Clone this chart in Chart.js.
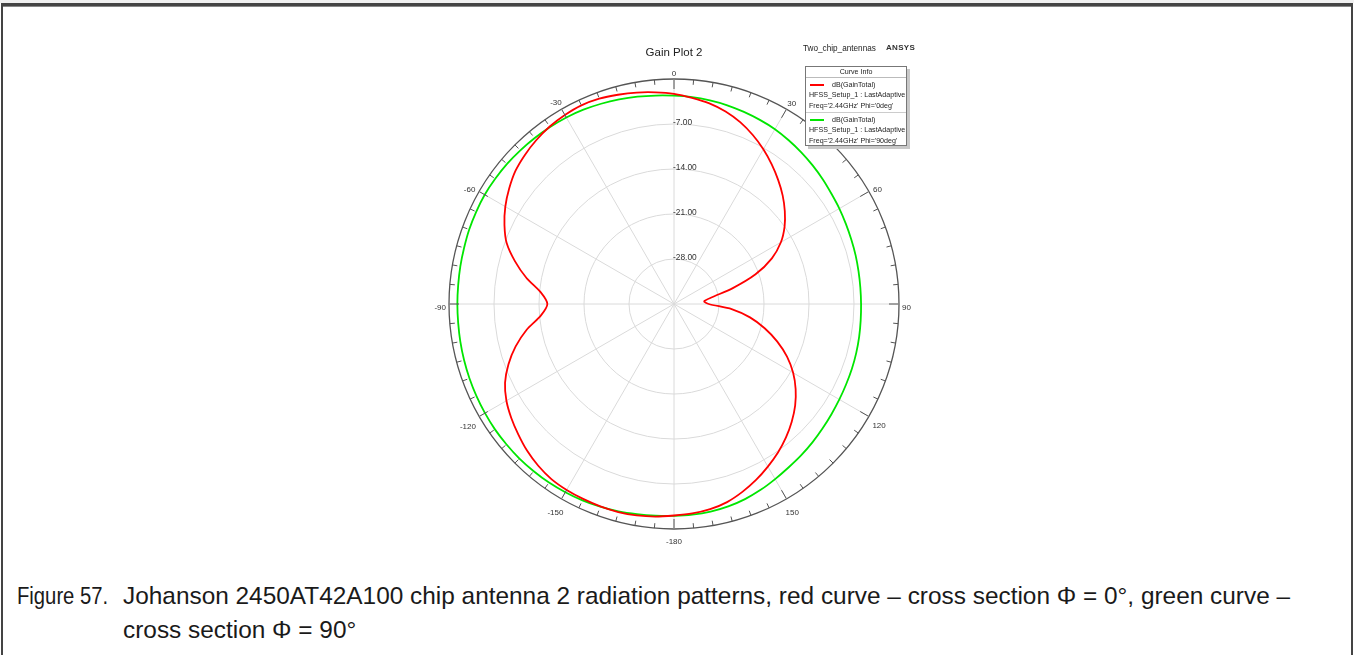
<!DOCTYPE html>
<html>
<head>
<meta charset="utf-8">
<title>Gain Plot 2</title>
<script src="https://cdn.jsdelivr.net/npm/chart.js@4.4.1/dist/chart.umd.min.js"></script>
<style>
  html, body { margin: 0; padding: 0; background: #fff; }
  body { width: 1354px; height: 655px; position: relative; overflow: hidden; font-family: "Liberation Sans", Arial, sans-serif; }
  .topband { position: absolute; left: 0; top: 0; width: 1354px; height: 3px; background: #f0f0f0; }
  .frame { position: absolute; left: 1px; top: 3px; width: 1348px; height: 660px;
           border-left: 2px solid #444; border-right: 2px solid #444; border-top: 3px solid #444; }
  .frame:before { content: ""; position: absolute; left: 0; right: 0; top: 0; height: 1px; background: #888; }
  #chart { position: absolute; left: 0; top: 0; }
  .title { position: absolute; left: 574px; width: 200px; top: 46px; text-align: center; font-size: 11.5px; color: #222; }
  .proj { position: absolute; left: 803px; top: 44px; font-size: 8.2px; color: #222; }
  .ansys { position: absolute; left: 886px; top: 43px; font-size: 8px; font-weight: bold; color: #333; letter-spacing: 0.3px; }
  .legend { position: absolute; left: 805px; top: 66px; width: 100px; height: 78px; background: #fff;
            border: 1px solid #777; box-shadow: 3px 3px 0 #c8c8c8; font-size: 7.1px; color: #222; }
  .legend .head { text-align: center; height: 10px; line-height: 10px; border-bottom: 1px solid #bbb; }
  .legend .grp { padding: 1.5px 0 1px 3px; line-height: 10.6px; }
  .legend .grp + .grp { border-top: 1px solid #ccc; }
  .legend .sw { display: inline-block; width: 14px; height: 0; border-top: 2px solid; vertical-align: middle; margin-right: 8px; margin-left: 1px; }
  .caption { position: absolute; left: 17px; top: 579px; width: 1330px; font-size: 24.4px; line-height: 34px; color: #1a1a1a; }
  .caption .num { position: absolute; left: 0; top: 0; display: inline-block; transform: scaleX(0.83); transform-origin: left center; }
  .caption .txt { margin-left: 106px; width: 1200px; }
</style>
</head>
<body>
<div class="topband"></div>
<div class="frame"></div>
<canvas id="chart" width="1354" height="560"></canvas>
<div class="title">Gain Plot 2</div>
<div class="proj">Two_chip_antennas</div>
<div class="ansys">ANSYS</div>
<div class="legend">
  <div class="head">Curve Info</div>
  <div class="grp">
    <div><span class="sw" style="border-color:#f00"></span>dB(GainTotal)</div>
    <div>HFSS_Setup_1 : LastAdaptive</div>
    <div>Freq='2.44GHz' Phi='0deg'</div>
  </div>
  <div class="grp">
    <div><span class="sw" style="border-color:#00e600"></span>dB(GainTotal)</div>
    <div>HFSS_Setup_1 : LastAdaptive</div>
    <div>Freq='2.44GHz' Phi='90deg'</div>
  </div>
</div>
<div class="caption">
  <span class="num">Figure 57.</span>
  <div class="txt">Johanson 2450AT42A100 chip antenna 2 radiation patterns, red curve – cross section Φ = 0°, green curve – cross section Φ = 90°</div>
</div>

<script>
// Theta in degrees, clockwise from top, every 5 deg (0 ... 355)
const thetaDeg = [
  0, 5, 10, 15, 20, 25, 30, 35, 40, 45, 50, 55, 60, 65, 70, 75, 80, 85,
  90, 95, 100, 105, 110, 115, 120, 125, 130, 135, 140, 145, 150, 155, 160, 165, 170, 175,
  180, 185, 190, 195, 200, 205, 210, 215, 220, 225, 230, 235, 240, 245, 250, 255, 260, 265,
  270, 275, 280, 285, 290, 295, 300, 305, 310, 315, 320, 325, 330, 335, 340, 345, 350, 355
];

// dB(GainTotal), Phi = 0deg (red)
const gainPhi0 = [
  -2.3, -2.8, -3.3, -4.0, -4.9, -6.0, -7.2, -8.5, -9.8, -11.1, -12.5, -14.0, -15.8, -18.2, -21.5, -25.6, -29.0, -30.3,
  -29.6, -26.0, -23.0, -20.4, -17.9, -15.6, -13.6, -11.9, -10.4, -9.1, -7.9, -6.8, -5.8, -4.8, -3.9, -3.1, -2.6, -2.3,
  -2.1, -1.8, -1.6, -1.5, -1.5, -1.55, -1.6, -1.75, -2.15, -2.7, -3.4, -4.1, -4.9, -6.0, -7.6, -9.5, -11.7, -14.2,
  -15.3, -14.2, -11.7, -9.4, -7.3, -5.9, -4.7, -3.7, -2.8, -2.2, -1.7, -1.3, -1.05, -0.9, -1.0, -1.3, -1.6, -1.95
];

// dB(GainTotal), Phi = 90deg (green)
const gainPhi90 = [
  -2.6, -2.7, -2.85, -3.0, -3.2, -3.4, -3.6, -3.9, -4.2, -4.5, -4.8, -5.1, -5.3, -5.5, -5.65, -5.75, -5.85, -5.9,
  -5.9, -5.85, -5.75, -5.65, -5.55, -5.45, -5.3, -5.1, -4.85, -4.55, -4.25, -3.95, -3.55, -3.1, -2.7, -2.4, -2.2, -2.1,
  -2.05, -1.95, -1.8, -1.6, -1.45, -1.3, -1.2, -1.1, -1.05, -1.0, -1.0, -1.0, -1.05, -1.1, -1.15, -1.2, -1.25, -1.3,
  -1.3, -1.3, -1.25, -1.2, -1.1, -1.05, -1.0, -1.05, -1.1, -1.2, -1.3, -1.4, -1.5, -1.65, -1.85, -2.05, -2.25, -2.45
];

// radial tick labels
const radialTicks = [-7, -14, -21, -28];

const angleText = d => String(d < 180 ? d : d - 360);

// outer ring marks, angle labels and dB labels
const polarDecor = {
  id: 'polarDecor',
  afterDraw(chart) {
    const s = chart.scales.r;
    const ctx = chart.ctx;
    const R = s.drawingArea;
    ctx.save();
    ctx.strokeStyle = '#555';
    ctx.lineWidth = 1;
    thetaDeg.forEach((d, i) => {
      const len = d % 30 === 0 ? 10 : 5;
      const p1 = s.getPointPosition(i, R);
      const p2 = s.getPointPosition(i, R - len);
      ctx.beginPath();
      ctx.moveTo(p1.x, p1.y);
      ctx.lineTo(p2.x, p2.y);
      ctx.stroke();
    });
    ctx.fillStyle = '#333';
    ctx.font = '8px "Liberation Sans", Arial, sans-serif';
    ctx.textAlign = 'center';
    ctx.textBaseline = 'middle';
    thetaDeg.forEach((d, i) => {
      if (d % 30 !== 0) return;
      const txt = angleText(d);
      const w = ctx.measureText(txt).width;
      const a = d * Math.PI / 180;
      const dist = R + 3 + 0.5 * w * Math.abs(Math.sin(a)) + 6 * Math.abs(Math.cos(a));
      const p = s.getPointPosition(i, dist);
      ctx.fillText(txt, p.x, p.y + 3.5);
    });
    ctx.font = '8.4px "Liberation Sans", Arial, sans-serif';
    ctx.textAlign = 'left';
    radialTicks.forEach(v => {
      const y = s.yCenter - s.getDistanceFromCenterForValue(v);
      ctx.fillText(v.toFixed(2), s.xCenter - 1, y - 1.5);
    });
    ctx.restore();
  }
};

new Chart(document.getElementById('chart'), {
  type: 'radar',
  data: {
    labels: thetaDeg.map(angleText),
    datasets: [
      { label: "dB(GainTotal) Phi='0deg'", data: gainPhi0, borderColor: '#f00', borderWidth: 1.8 },
      { label: "dB(GainTotal) Phi='90deg'", data: gainPhi90, borderColor: '#00e600', borderWidth: 1.8 }
    ]
  },
  options: {
    responsive: false,
    animation: false,
    layout: { padding: { left: 449, right: 455, top: 79, bottom: 31 } },
    elements: {
      point: { radius: 0, hoverRadius: 0 },
      line: { fill: false, tension: 0.25 }
    },
    plugins: {
      legend: { display: false },
      tooltip: { enabled: false },
      title: { display: false }
    },
    scales: {
      r: {
        min: -35,
        max: 0,
        ticks: { stepSize: 7, display: false },
        pointLabels: { display: false },
        grid: {
          circular: true,
          color: c => c.tick.value === 0 ? '#555' : (c.tick.value === -35 ? 'rgba(0,0,0,0)' : '#dadada'),
          lineWidth: c => c.tick.value === 0 ? 1.3 : 1
        },
        angleLines: {
          color: c => c.index % 6 === 0 ? '#dadada' : 'rgba(0,0,0,0)',
          lineWidth: 1
        }
      }
    }
  },
  plugins: [polarDecor]
});
</script>
</body>
</html>
